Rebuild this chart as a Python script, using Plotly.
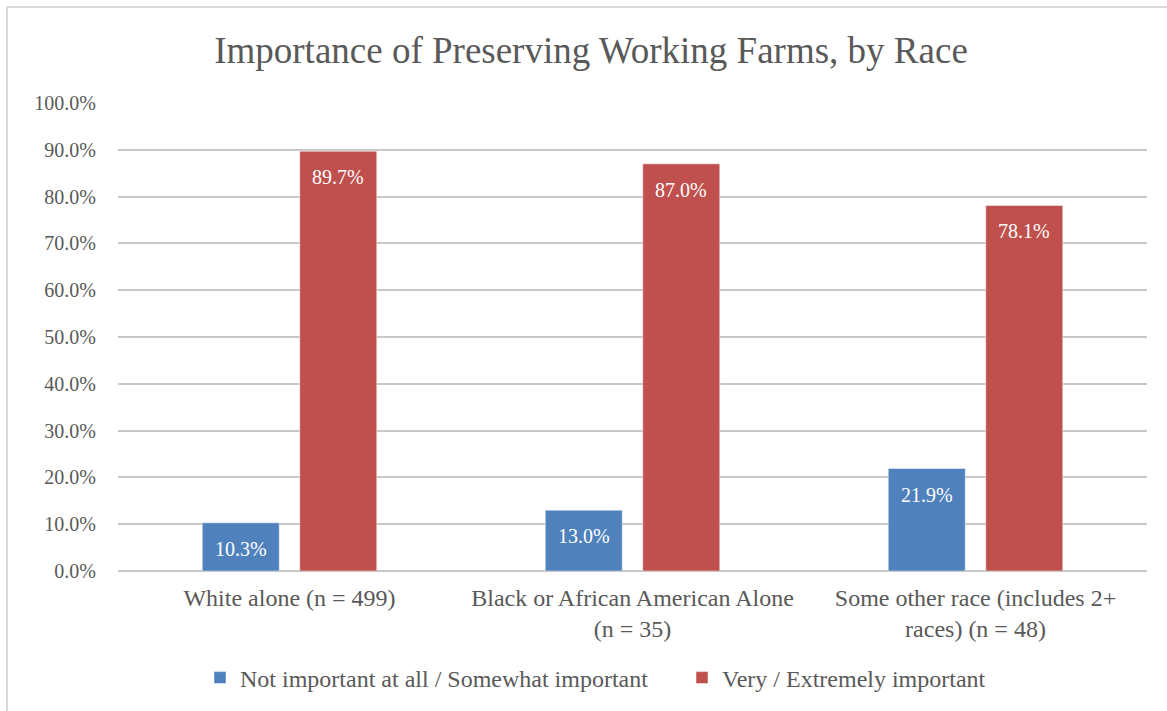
import plotly.graph_objects as go

# Survey results: share of respondents by race group
categories = [
    "White alone (n = 499)",
    "Black or African American Alone<br>(n = 35)",
    "Some other race (includes 2+<br>races) (n = 48)",
]
not_important = [10.3, 13.0, 21.9]
very_important = [89.7, 87.0, 78.1]
series_names = ["Not important at all / Somewhat important", "Very / Extremely important"]
y_ticks = [0, 10, 20, 30, 40, 50, 60, 70, 80, 90, 100]

BLUE = "#4F81BD"
RED = "#C0504D"
TEXT = "#595959"
GRID = "#C8C8C8"
FONT = "Liberation Serif"

W, H = 1167, 711
ML, MR, MT, MB = 118, 20, 103, 140
plot_w = W - ML - MR
plot_h = H - MT - MB
BARGAP = 0.4315

fig = go.Figure()
for name, vals, col in [(series_names[0], not_important, BLUE), (series_names[1], very_important, RED)]:
    fig.add_trace(go.Bar(
        x=categories, y=vals, name=name,
        marker=dict(color=col, line=dict(color="rgba(255,255,255,0.6)", width=0.8)),
        hoverinfo="skip",
    ))

# Value labels inside the top of each bar
group_w = plot_w / len(categories)
offset = group_w * (1 - BARGAP) / 4
annotations = []
for vals, sign in [(not_important, -1), (very_important, 1)]:
    for cat, v in zip(categories, vals):
        annotations.append(dict(
            x=cat, y=v, xref="x", yref="y", text=f"{v:.1f}%", showarrow=False,
            xshift=sign * offset, yshift=-26, yanchor="middle",
            font=dict(family=FONT, size=20, color="white"),
        ))

# Chart-area frame (left and top edges)
px2x = lambda p: (p - ML) / plot_w
px2y = lambda p: (H - MB - p) / plot_h
shapes = [
    dict(type="line", xref="paper", yref="paper", x0=px2x(7), x1=px2x(7), y0=px2y(7), y1=px2y(H + 20),
         line=dict(color="#D9D9D9", width=2)),
    dict(type="line", xref="paper", yref="paper", x0=px2x(7), x1=px2x(W + 20), y0=px2y(7), y1=px2y(7),
         line=dict(color="#D9D9D9", width=2)),
]

fig.update_layout(
    width=W, height=H,
    margin=dict(l=ML, r=MR, t=MT, b=MB, autoexpand=False),
    paper_bgcolor="white", plot_bgcolor="white",
    barmode="group", bargap=BARGAP, bargroupgap=0.21,
    title=dict(text="Importance of Preserving Working Farms, by Race",
               x=591 / W, xanchor="center", y=1 - 50 / H, yanchor="middle",
               font=dict(family=FONT, size=37, color=TEXT)),
    font=dict(family=FONT, size=20, color=TEXT),
    xaxis=dict(showgrid=False, showline=False, ticks="", tickfont=dict(family=FONT, size=24, color=TEXT),
               ticklabelstandoff=10, fixedrange=True),
    yaxis=dict(range=[0, 100], tickvals=y_ticks, ticktext=[f"{t:.1f}%" for t in y_ticks],
               showgrid=True, gridcolor=GRID, gridwidth=1.5, zeroline=True, zerolinecolor=GRID,
               zerolinewidth=1.5, showline=False, ticks="", ticklabelstandoff=21,
               tickfont=dict(family=FONT, size=20, color=TEXT), fixedrange=True),
    legend=dict(orientation="h", x=px2x(200), xanchor="left", y=px2y(678), yanchor="middle",
                font=dict(family=FONT, size=24, color=TEXT), itemwidth=30,
                entrywidth=437, entrywidthmode="pixels", traceorder="normal"),
    annotations=annotations,
    shapes=shapes,
)

fig.write_html("out.html")
